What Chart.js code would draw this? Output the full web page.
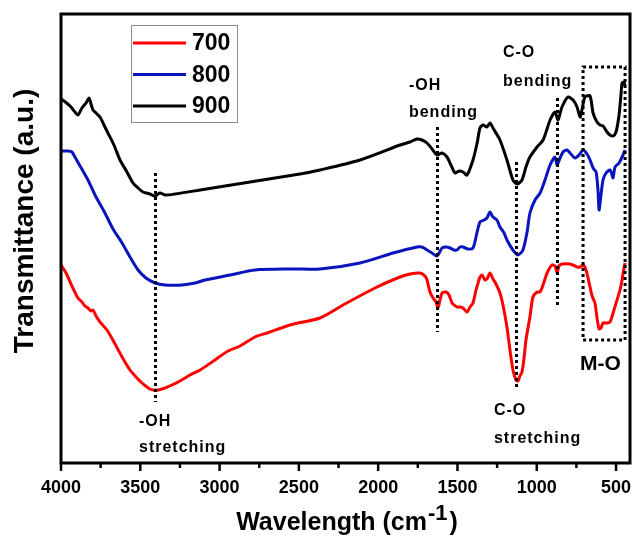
<!DOCTYPE html>
<html>
<head>
<meta charset="utf-8">
<script src="https://cdn.jsdelivr.net/npm/chart.js@4.4.0/dist/chart.umd.min.js"></script>
<style>
  html, body { margin: 0; padding: 0; background: #fff; }
  #ftir { display: block; }
</style>
</head>
<body>
<canvas id="ftir" width="632" height="539"></canvas>
<script>
// FTIR spectra of the samples calcined at 700, 800 and 900
const seriesNames = ['700', '800', '900'];
const seriesColors = ['#ff0000', '#0a14be', '#000000'];

const wave700 = [4000,3968,3931,3893,3868,3849,3830,3811,3798,3779,3754,3710,3666,3615,3565,3521,3489,3458,3439,3420,3388,3344,3300,3250,3187,3123,3029,2947,2871,2777,2701,2556,2367,2222,2007,1862,1799,1736,1705,1692,1673,1654,1635,1623,1610,1597,1572,1553,1534,1503,1484,1465,1440,1421,1402,1383,1370,1358,1345,1326,1314,1295,1276,1257,1232,1213,1188,1169,1150,1131,1118,1106,1093,1080,1068,1043,1024,998,979,954,935,904,885,872,860,841,790,759,746,727,708,689,664,651,633,620,607,595,582,557,538,513,494,475,462,450,443];
const trans700 = [198,190,177,165,161,157,155,152,153,147,141,133,121,106,93,85,80,76,74,73,73,75,78,82,88,93,103,112,117,126,130,138,145,158,176,186,189,190,187,183,171,165,161,155,163,170,171,168,160,156,156,155,151,156,160,173,180,186,188,183,184,190,184,179,170,158,136,113,93,83,82,87,91,105,123,146,166,171,171,181,190,198,197,190,197,199,199,197,196,196,198,193,176,167,160,145,134,135,140,140,141,153,163,173,183,195,200];

const wave800 = [4000,3956,3931,3912,3880,3830,3779,3723,3672,3615,3565,3514,3464,3407,3344,3237,3155,3092,2934,2777,2556,2367,2114,1906,1755,1724,1692,1660,1629,1597,1572,1547,1522,1503,1484,1465,1434,1402,1376,1358,1332,1314,1295,1276,1251,1232,1206,1188,1150,1118,1087,1061,1043,1011,979,948,916,885,872,853,834,809,790,759,733,708,683,664,645,626,614,607,595,582,563,538,525,519,506,481,456,443];
const trans800 = [312,312,311,306,297,283,266,250,234,220,206,193,185,180,178,178,180,183,188,193,194,194,200,210,216,216,213,210,207,215,216,215,213,213,216,216,214,215,231,241,243,245,251,246,243,236,230,223,213,208,213,231,250,263,270,283,298,306,298,305,311,313,310,305,308,313,309,303,295,291,273,253,268,283,290,293,288,285,296,300,308,313];

const wave900 = [4000,3981,3943,3912,3893,3868,3842,3823,3811,3798,3779,3754,3729,3704,3666,3628,3584,3546,3514,3483,3439,3407,3376,3344,3281,3123,2808,2493,2367,2114,1862,1799,1755,1724,1692,1660,1629,1597,1566,1541,1515,1490,1465,1440,1402,1376,1358,1339,1314,1295,1276,1232,1188,1150,1124,1093,1068,1043,998,960,916,885,866,841,803,771,746,727,715,696,664,645,620,601,582,557,538,519,500,481,469,462,450,443];
const trans900 = [364,362,357,351,348,355,360,365,359,353,350,346,338,330,318,303,291,280,275,271,269,267,270,268,269,273,281,289,293,303,318,321,324,323,320,314,308,310,306,298,290,292,291,288,303,320,335,338,336,340,335,323,303,283,279,283,296,306,316,323,343,351,343,356,366,363,356,346,353,366,367,350,341,338,337,331,328,327,331,348,368,380,381,377];

// band assignments: dotted guides (wavenumber, from / to level)
const guideWave = [3407, 1629, 1131, 872];
const guideTop = [290, 336, 301, 365];
const guideBottom = [61, 131, 73, 158];
// metal-oxygen region box: wavenumber span and level span
const moWave = [708, 443];
const moLevel = [396, 123];

const noteText = ['-OH', 'stretching', '-OH', 'bending', 'C-O', 'bending', 'C-O', 'stretching'];
const noteWave = [3508, 3508, 1806, 1806, 1213, 1213, 1270, 1270];
const noteLevel = [37, 11, 373, 346, 406, 377, 48, 20];

const xTickStep = 250;

const toPoints = (w, t) => w.map((v, i) => ({ x: v, y: t[i] }));
const seriesData = [toPoints(wave700, trans700), toPoints(wave800, trans800), toPoints(wave900, trans900)];

const FONT = '"Liberation Sans", Arial, Helvetica, sans-serif';

const decor = {
  id: 'decor',
  afterDraw(chart) {
    const { ctx, chartArea: a, scales: { x, y } } = chart;
    ctx.save();

    // dotted guides
    ctx.strokeStyle = '#000';
    ctx.lineWidth = 3;
    ctx.setLineDash([3, 3]);
    guideWave.forEach((w, i) => {
      const px = Math.round(x.getPixelForValue(w)) + 0.5;
      ctx.beginPath();
      ctx.moveTo(px, y.getPixelForValue(guideTop[i]));
      ctx.lineTo(px, y.getPixelForValue(guideBottom[i]));
      ctx.stroke();
    });
    const bx1 = x.getPixelForValue(moWave[0]);
    const bx2 = x.getPixelForValue(moWave[1]);
    const by1 = y.getPixelForValue(moLevel[0]);
    const by2 = y.getPixelForValue(moLevel[1]);
    ctx.strokeRect(bx1, by1, bx2 - bx1, by2 - by1);
    ctx.setLineDash([]);

    // frame
    ctx.lineWidth = 3;
    ctx.strokeRect(a.left, a.top, a.right - a.left, a.bottom - a.top);

    // tick marks, long on the labelled ones
    ctx.lineWidth = 2.5;
    x.ticks.forEach(t => {
      const px = x.getPixelForValue(t.value);
      const len = t.value % 500 === 0 ? 8 : 5;
      ctx.beginPath();
      ctx.moveTo(px, a.bottom);
      ctx.lineTo(px, a.bottom + len);
      ctx.stroke();
    });

    // band labels
    ctx.fillStyle = '#000';
    ctx.textAlign = 'left';
    ctx.textBaseline = 'alphabetic';
    ctx.font = 'bold 16px ' + FONT;
    ctx.letterSpacing = '1px';
    noteText.forEach((s, i) => {
      ctx.fillText(s, x.getPixelForValue(noteWave[i]), y.getPixelForValue(noteLevel[i]));
    });
    ctx.letterSpacing = '0px';
    ctx.font = 'bold 21px ' + FONT;
    ctx.fillText('M-O', x.getPixelForValue(727), y.getPixelForValue(93));

    // legend
    ctx.strokeStyle = '#8c8c8c';
    ctx.lineWidth = 1;
    ctx.strokeRect(131.5, 25.5, 106, 97);
    ctx.font = 'bold 23px ' + FONT;
    ctx.textBaseline = 'middle';
    chart.data.datasets.forEach((ds, i) => {
      const ly = 43 + i * 31.5;
      ctx.strokeStyle = ds.borderColor;
      ctx.lineWidth = 3;
      ctx.beginPath();
      ctx.moveTo(133, ly);
      ctx.lineTo(186, ly);
      ctx.stroke();
      ctx.fillText(ds.label, 192, ly + 1);
    });

    // axis titles
    ctx.textBaseline = 'alphabetic';
    ctx.font = 'bold 25px ' + FONT;
    const main = 'Wavelength (cm';
    const wMain = ctx.measureText(main).width;
    const wClose = ctx.measureText(')').width;
    ctx.font = 'bold 22px ' + FONT;
    const wSup = ctx.measureText('-1').width;
    let tx = 347 - (wMain + wSup + 3 + wClose) / 2;
    ctx.font = 'bold 25px ' + FONT;
    ctx.fillText(main, tx, 530);
    tx += wMain + 1;
    ctx.font = 'bold 22px ' + FONT;
    ctx.fillText('-1', tx, 520);
    tx += wSup + 2;
    ctx.font = 'bold 25px ' + FONT;
    ctx.fillText(')', tx, 530);

    ctx.translate(33, 221);
    ctx.rotate(-Math.PI / 2);
    ctx.textAlign = 'center';
    ctx.font = 'bold 28px ' + FONT;
    ctx.fillText('Transmittance (a.u.)', 0, 0);

    ctx.restore();
  }
};

new Chart(document.getElementById('ftir'), {
  type: 'line',
  data: {
    datasets: seriesNames.map((name, i) => ({
      label: name,
      data: seriesData[i],
      borderColor: seriesColors[i],
      backgroundColor: seriesColors[i],
      borderWidth: 3,
      pointRadius: 0,
      tension: 0.25,
      fill: false
    }))
  },
  options: {
    responsive: false,
    devicePixelRatio: 1,
    animation: false,
    layout: { padding: { left: 61, right: 2, top: 14, bottom: 0 } },
    plugins: { legend: { display: false }, tooltip: { enabled: false } },
    scales: {
      x: {
        type: 'linear',
        reverse: true,
        min: 412,
        max: 4000,
        afterFit(scale) {
          scale.height = 76;
          scale.paddingLeft = 0;
          scale.paddingRight = 0;
        },
        border: { display: false },
        grid: { display: false, drawTicks: false },
        ticks: {
          stepSize: xTickStep,
          includeBounds: false,
          autoSkip: false,
          maxRotation: 0,
          padding: 14,
          color: '#000',
          font: { family: FONT, size: 18, weight: 'bold' },
          callback: v => (v % 500 === 0 ? String(v) : '')
        }
      },
      y: { display: false, min: 0, max: 449 }
    }
  },
  plugins: [decor]
});
</script>
</body>
</html>
